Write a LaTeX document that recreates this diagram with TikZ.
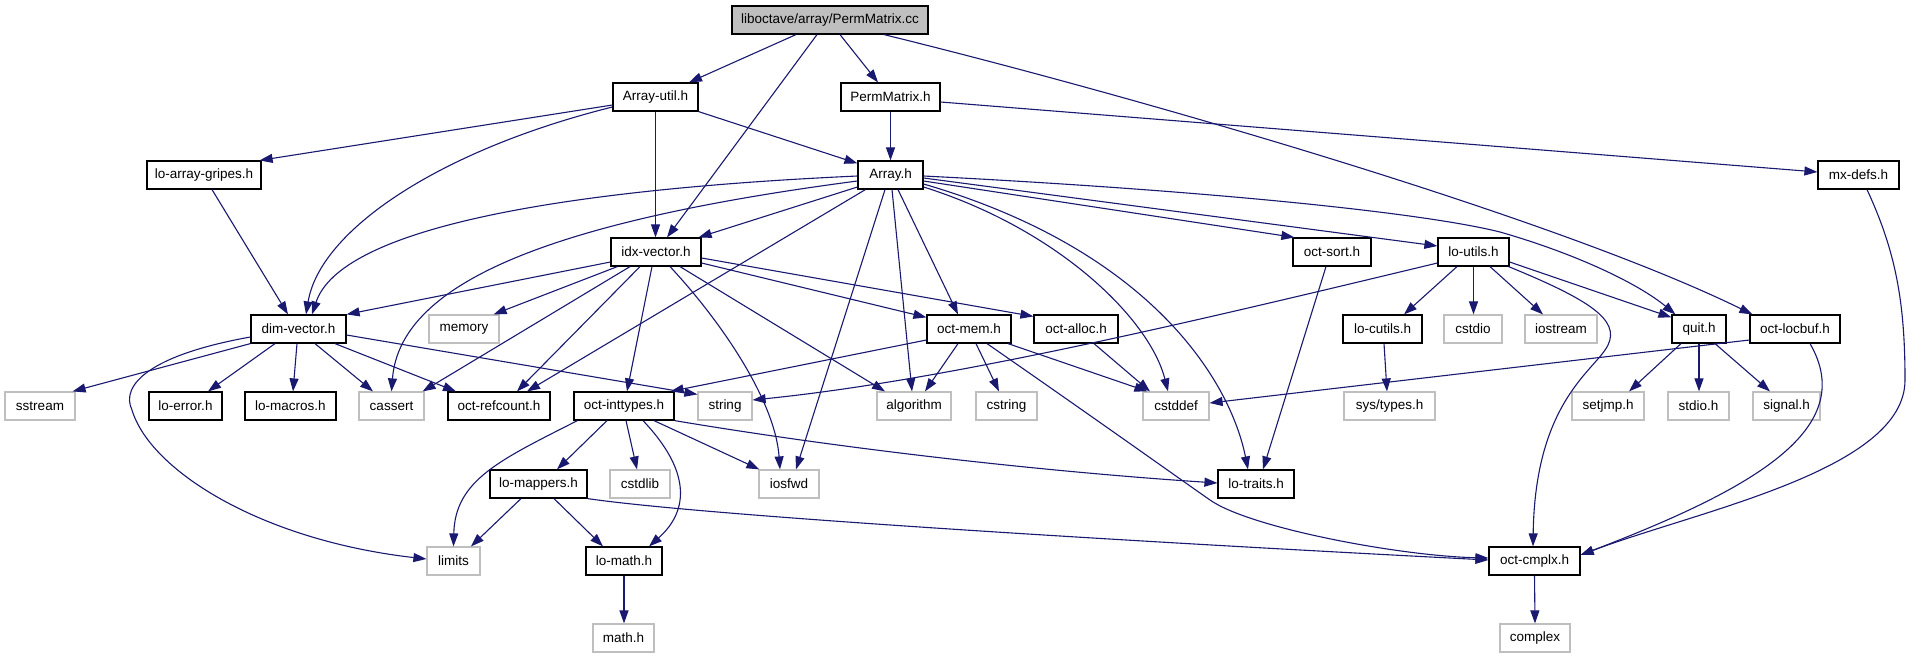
\documentclass[tikz,border=0pt]{standalone}
\usepackage{fontspec}
\setmainfont{Liberation Sans}
\usetikzlibrary{arrows.meta}
\definecolor{edgeblue}{HTML}{191970}
\definecolor{grey75}{HTML}{BFBFBF}
\begin{document}
\begin{tikzpicture}[x=1pt,y=-1pt,
  box/.style={draw=black, line width=1.2pt, minimum height=28pt, inner sep=0pt, text=black, font=\fontsize{13.5}{16}\selectfont},
  sysbox/.style={box, draw=grey75},
  mainbox/.style={box, fill=grey75},
  dep/.style={draw=edgeblue, line width=1.1pt, -{Triangle[length=13pt,width=9pt]}}]
\fill[white] (0,0) rectangle (1913,659);
\useasboundingbox (0,0) rectangle (1913,659);
% row 1
\node[mainbox, minimum width=196pt] (pmcc) at (830,20) {liboctave/array/PermMatrix.cc};
% row 2
\node[box, minimum width=85pt] (arrutil) at (655.5,97) {Array-util.h};
\node[box, minimum width=99pt] (pmh) at (890.5,97) {PermMatrix.h};
% row 3
\node[box, minimum width=114pt] (gripes) at (204,175) {lo-array-gripes.h};
\node[box, minimum width=65pt] (arrh) at (890.5,175) {Array.h};
\node[box, minimum width=81pt] (mxdefs) at (1858.5,175) {mx-defs.h};
% row 4
\node[box, minimum width=90pt] (idx) at (656,252) {idx-vector.h};
\node[box, minimum width=78pt] (sort) at (1332,252) {oct-sort.h};
\node[box, minimum width=71pt] (utils) at (1473.5,252) {lo-utils.h};
% row 5
\node[box, minimum width=95pt] (dimv) at (298.5,329) {dim-vector.h};
\node[sysbox, minimum width=70pt] (memory) at (464,329) {memory};
\node[box, minimum width=84pt] (mem) at (969,329) {oct-mem.h};
\node[box, minimum width=84pt] (alloc) at (1076,329) {oct-alloc.h};
\node[box, minimum width=79pt] (cutils) at (1382.5,329) {lo-cutils.h};
\node[sysbox, minimum width=58pt] (cstdio) at (1473,329) {cstdio};
\node[sysbox, minimum width=72pt] (iostream) at (1561,329) {iostream};
\node[box, minimum width=54pt] (quit) at (1699,329) {quit.h};
\node[box, minimum width=90pt] (locbuf) at (1795,329) {oct-locbuf.h};
% row 6
\node[sysbox, minimum width=70pt] (sstream) at (40,406) {sstream};
\node[box, minimum width=73pt] (err) at (185.5,406) {lo-error.h};
\node[box, minimum width=91pt] (macros) at (290.5,406) {lo-macros.h};
\node[sysbox, minimum width=65pt] (cassert) at (391.5,406) {cassert};
\node[box, minimum width=102pt] (refc) at (499,406) {oct-refcount.h};
\node[box, minimum width=100pt] (inttypes) at (624,406) {oct-inttypes.h};
\node[sysbox, minimum width=54pt] (string) at (725,406) {string};
\node[sysbox, minimum width=74pt] (algorithm) at (914,406) {algorithm};
\node[sysbox, minimum width=61pt] (cstring) at (1006.5,406) {cstring};
\node[sysbox, minimum width=66pt] (cstddef) at (1176,406) {cstddef};
\node[sysbox, minimum width=91pt] (systypes) at (1389.5,406) {sys/types.h};
\node[sysbox, minimum width=72pt] (setjmp) at (1608,406) {setjmp.h};
\node[sysbox, minimum width=61pt] (stdio) at (1698.5,406) {stdio.h};
\node[sysbox, minimum width=67pt] (signal) at (1786.5,406) {signal.h};
% row 7
\node[box, minimum width=97pt] (mappers) at (538.5,484) {lo-mappers.h};
\node[sysbox, minimum width=60pt] (cstdlib) at (640,484) {cstdlib};
\node[sysbox, minimum width=60pt] (iosfwd) at (789,484) {iosfwd};
\node[box, minimum width=76pt] (traits) at (1256,484) {lo-traits.h};
% row 8
\node[sysbox, minimum width=53pt] (limits) at (453.5,561) {limits};
\node[box, minimum width=76pt] (math) at (624,561) {lo-math.h};
\node[box, minimum width=91pt] (cmplx) at (1534.5,561) {oct-cmplx.h};
% row 9
\node[sysbox, minimum width=61pt] (mathh) at (623.5,638) {math.h};
\node[sysbox, minimum width=70pt] (complex) at (1535,638) {complex};

% edges from PermMatrix.cc
\draw[dep] ([xshift=-34pt]pmcc.south) -- ([xshift=33.5pt]arrutil.north);
\draw[dep] ([xshift=-13pt]pmcc.south) -- ([xshift=11pt]idx.north);
\draw[dep] ([xshift=10pt]pmcc.south) -- ([xshift=-12.5pt]pmh.north);
\draw[dep] ([xshift=54pt]pmcc.south) .. controls (1150,100) and (1560,220) .. ([xshift=3pt]locbuf.north west);
% Array-util.h
\draw[dep] ([yshift=-8pt]arrutil.west) -- ([xshift=-2pt]gripes.north east);
\draw[dep] ([yshift=-10pt]arrutil.west) .. controls (440,150) and (320,230) .. ([xshift=7.5pt]dimv.north);
\draw[dep] (arrutil.south) -- ([xshift=-0.5pt]idx.north);
\draw[dep] (arrutil.south east) -- ([yshift=-3pt]arrh.north west);
% PermMatrix.h
\draw[dep] (pmh.south) -- (arrh.north);
\draw[dep] ([yshift=-5pt]pmh.east) -- ([yshift=3pt]mxdefs.west);
% lo-array-gripes.h
\draw[dep] ([xshift=8pt]gripes.south) -- ([xshift=-10.5pt]dimv.north);
% mx-defs.h
\draw[dep] ([xshift=8.5pt]mxdefs.south) .. controls (1895,250) and (1905,300) .. (1905,380) .. controls (1905,470) and (1700,510) .. ([yshift=6pt]cmplx.east);
% Array.h
\draw[dep] ([yshift=-1pt]arrh.west) .. controls (550,190) and (340,230) .. ([xshift=13.5pt]dimv.north);
\draw[dep] ([yshift=-12pt]arrh.west) -- ([xshift=-3pt]idx.north east);
\draw[dep] ([yshift=-6pt]arrh.west) .. controls (560,220) and (400,280) .. (cassert.north);
\draw[dep] ([xshift=8pt]arrh.south west) -- ([xshift=28pt]refc.north);
\draw[dep] ([xshift=-5.5pt]arrh.south) -- ([xshift=7pt]iosfwd.north);
\draw[dep] ([xshift=1.5pt]arrh.south) -- ([xshift=-2pt]algorithm.north);
\draw[dep] ([xshift=7.5pt]arrh.south) -- ([xshift=-11pt]mem.north);
\draw[dep] ([yshift=-12pt]arrh.east) .. controls (1060,230) and (1150,320) .. ([xshift=-8pt]cstddef.north);
\draw[dep] ([yshift=-9pt]arrh.east) .. controls (1150,250) and (1230,380) .. ([xshift=-8pt]traits.north);
\draw[dep] ([yshift=-6pt]arrh.east) -- ([xshift=2pt]sort.north west);
\draw[dep] ([yshift=-3pt]arrh.east) -- ([yshift=6pt]utils.west);
\draw[dep] ([yshift=-1pt]arrh.east) .. controls (1200,190) and (1420,212) .. (1500,232) .. controls (1580,255) and (1640,285) .. ([xshift=4pt]quit.north west);
% idx-vector.h
\draw[dep] ([yshift=-10pt]idx.west) -- (dimv.north east);
\draw[dep] ([xshift=7pt]idx.south west) -- ([xshift=-6pt]memory.north east);
\draw[dep] ([xshift=-26pt]idx.south) -- ([xshift=-2pt]cassert.north east);
\draw[dep] ([xshift=-16pt]idx.south) -- ([xshift=18pt]refc.north);
\draw[dep] ([xshift=-4pt]idx.south) -- ([xshift=3pt]inttypes.north);
\draw[dep] ([xshift=14pt]idx.south) .. controls (720,320) and (775,400) .. ([xshift=-9pt]iosfwd.north);
\draw[dep] ([xshift=24pt]idx.south) -- ([xshift=-29pt]algorithm.north);
\draw[dep] ([yshift=-11pt]idx.east) -- ([yshift=-3pt]mem.north west);
\draw[dep] ([yshift=-6pt]idx.east) -- ([yshift=-2pt]alloc.north west);
% dim-vector.h
\draw[dep] (dimv.south west) -- ([xshift=-3pt]sstream.north east);
\draw[dep] ([xshift=-23.5pt]dimv.south) -- ([xshift=22.5pt]err.north);
\draw[dep] ([xshift=-1.5pt]dimv.south) -- ([xshift=2.5pt]macros.north);
\draw[dep] ([xshift=16.5pt]dimv.south) -- ([xshift=-18.5pt]cassert.north);
\draw[dep] ([xshift=36.5pt]dimv.south) -- ([xshift=-43pt]refc.north);
\draw[dep] ([yshift=-6pt]dimv.east) -- ([yshift=-3pt]string.north west);
\draw[dep] ([yshift=-8pt]dimv.west) .. controls (150,355) and (120,385) .. (132,410) .. controls (150,470) and (260,540) .. ([yshift=2pt]limits.west);
% oct-mem.h
\draw[dep] ([yshift=-11pt]mem.west) -- ([xshift=-4pt]inttypes.north east);
\draw[dep] ([xshift=-11pt]mem.south) -- ([xshift=11pt]algorithm.north);
\draw[dep] ([xshift=7pt]mem.south) -- ([xshift=-7.5pt]cstring.north);
\draw[dep] ([xshift=39pt]mem.south) -- ([xshift=5pt]cstddef.north west);
\draw[dep] ([xshift=18pt]mem.south) .. controls (1100,422) and (1170,472) .. (1210,500) .. controls (1250,528) and (1400,556) .. ([yshift=3pt]cmplx.west);
% oct-alloc.h, oct-sort.h
\draw[dep] ([xshift=18pt]alloc.south) -- ([xshift=-26pt]cstddef.north);
\draw[dep] ([xshift=-6pt]sort.south) -- ([xshift=7pt]traits.north);
% lo-utils.h
\draw[dep] ([yshift=-11pt]utils.west) .. controls (1200,320) and (950,380) .. ([yshift=6pt]string.east);
\draw[dep] ([xshift=-16.5pt]utils.south) -- ([xshift=21.5pt]cutils.north);
\draw[dep] (utils.south) -- ([xshift=0.5pt]cstdio.north);
\draw[dep] ([xshift=16.5pt]utils.south) -- ([xshift=-18pt]iostream.north);
\draw[dep] ([yshift=-10pt]utils.east) -- ([yshift=-3pt]quit.north west);
\draw[dep] ([xshift=-1pt]utils.south east) .. controls (1590,300) and (1620,320) .. (1608,345) .. controls (1596,370) and (1535,400) .. ([xshift=-1.5pt]cmplx.north);
% lo-cutils.h, quit.h
\draw[dep] ([xshift=1.5pt]cutils.south) -- ([xshift=-2.5pt]systypes.north);
\draw[dep] ([xshift=-18pt]quit.south) -- ([xshift=21pt]setjmp.north);
\draw[dep] (quit.south) -- ([xshift=0.5pt]stdio.north);
\draw[dep] ([xshift=16pt]quit.south) -- ([xshift=-16.5pt]signal.north);
% oct-locbuf.h
\draw[dep] ([yshift=-11pt]locbuf.west) -- ([yshift=3pt]cstddef.east);
\draw[dep] ([xshift=15pt]locbuf.south) .. controls (1860,430) and (1750,490) .. ([yshift=6pt]cmplx.east);
% oct-inttypes.h
\draw[dep] ([xshift=4pt]inttypes.south west) .. controls (500,460) and (455,480) .. (limits.north);
\draw[dep] ([xshift=-17pt]inttypes.south) -- ([xshift=18.5pt]mappers.north);
\draw[dep] ([xshift=2pt]inttypes.south) -- ([xshift=-3pt]cstdlib.north);
\draw[dep] ([xshift=19pt]inttypes.south) .. controls (690,470) and (690,510) .. ([xshift=25pt]math.north);
\draw[dep] ([xshift=30pt]inttypes.south) -- ([xshift=1pt]iosfwd.north west);
\draw[dep] (inttypes.south east) .. controls (850,450) and (1050,472) .. ([yshift=1pt]traits.west);
% lo-mappers.h
\draw[dep] ([xshift=-17.5pt]mappers.south) -- ([xshift=17.5pt]limits.north);
\draw[dep] ([xshift=15.5pt]mappers.south) -- ([xshift=-21pt]math.north);
\draw[dep] (mappers.south east) .. controls (700,515) and (1100,540) .. ([yshift=1pt]cmplx.west);
% lo-math.h, oct-cmplx.h
\draw[dep] (math.south) -- ([xshift=0.5pt]mathh.north);
\draw[dep] (cmplx.south) -- (complex.north);
\end{tikzpicture}
\end{document}
